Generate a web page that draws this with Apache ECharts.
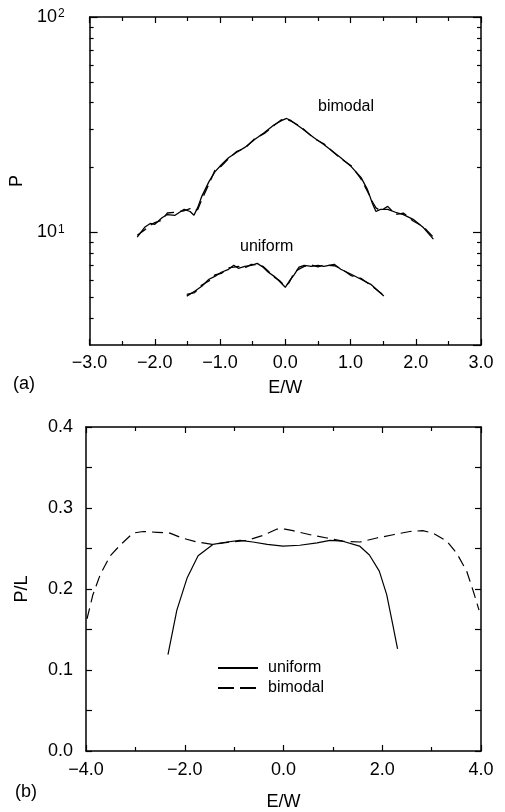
<!DOCTYPE html>
<html>
<head>
<meta charset="utf-8">
<script src="https://cdn.jsdelivr.net/npm/echarts@6/dist/echarts.min.js"></script>
<style>
html, body { margin: 0; padding: 0; background: #fff; }
#chart { width: 505px; height: 812px; }
</style>
</head>
<body>
<div id="chart"></div>
<script>
// ---- panel (a): P (log) vs E/W ----
const bimodalE = [-2.27, -2.15, -2.07, -2.00, -1.89, -1.81, -1.69, -1.55, -1.46, -1.40, -1.34, -1.28, -1.17, -1.08, -0.98, -0.87, -0.75, -0.62, -0.47, -0.32, -0.17, -0.06, 0.02, 0.09, 0.24, 0.44, 0.59, 0.85, 1.01, 1.16, 1.26, 1.34, 1.39, 1.46, 1.57, 1.69, 1.81, 1.96, 2.12, 2.27];
const bimodalP1 = [9.5, 10.6, 11.0, 10.9, 11.7, 12.1, 12.0, 12.8, 12.5, 12.0, 13.1, 14.7, 17.2, 19.1, 20.6, 22.2, 23.5, 24.8, 27.0, 29.1, 31.6, 33.0, 33.8, 33.0, 30.6, 27.5, 25.6, 22.2, 20.2, 18.0, 15.8, 13.5, 12.5, 12.8, 12.8, 12.4, 12.1, 11.5, 10.5, 9.3];
const bimodalP2 = [9.7, 10.3, 10.8, 11.1, 11.4, 12.3, 12.4, 12.6, 12.9, 12.6, 12.8, 14.2, 16.8, 19.4, 20.3, 22.0, 23.7, 24.6, 27.2, 28.8, 31.4, 33.3, 33.5, 32.8, 30.9, 27.3, 25.8, 22.0, 20.4, 17.7, 15.5, 13.8, 13.0, 12.6, 13.2, 12.1, 12.3, 11.3, 10.6, 9.5];

const uniformE = [-1.51, -1.39, -1.28, -1.17, -1.08, -0.98, -0.87, -0.79, -0.72, -0.62, -0.52, -0.43, -0.34, -0.26, -0.17, -0.09, 0.00, 0.06, 0.14, 0.21, 0.29, 0.40, 0.50, 0.59, 0.75, 0.85, 1.01, 1.16, 1.31, 1.51];
const uniformP1 = [5.06, 5.33, 5.62, 6.06, 6.25, 6.53, 6.74, 7.03, 6.81, 6.96, 7.03, 7.18, 6.89, 6.53, 6.25, 5.93, 5.56, 5.93, 6.39, 6.89, 7.03, 6.96, 7.03, 6.96, 7.11, 6.74, 6.39, 6.06, 5.74, 5.06];
const uniformP2 = [5.15, 5.25, 5.70, 5.95, 6.35, 6.45, 6.85, 6.90, 6.95, 6.85, 7.10, 7.05, 6.95, 6.60, 6.20, 5.98, 5.62, 5.85, 6.55, 6.75, 6.95, 7.05, 6.92, 7.05, 7.00, 6.80, 6.30, 6.12, 5.68, 5.10];

// log axis tick positions
const logMinorTicks = [4, 5, 6, 7, 8, 9, 20, 30, 40, 50, 60, 70, 80, 90];

// ---- panel (b): P/L vs E/W ----
const bUniformE = [-2.34, -2.16, -1.95, -1.73, -1.43, -1.14, -0.88, -0.62, -0.33, -0.01, 0.33, 0.68, 0.94, 1.20, 1.54, 1.74, 1.94, 2.09, 2.21, 2.31];
const bUniformPL = [0.119, 0.174, 0.214, 0.241, 0.255, 0.258, 0.260, 0.258, 0.255, 0.253, 0.254, 0.257, 0.260, 0.259, 0.253, 0.242, 0.222, 0.193, 0.157, 0.126];

const bBimodalE = [-3.98, -3.86, -3.71, -3.51, -3.31, -3.05, -2.84, -2.56, -2.30, -2.06, -1.75, -1.43, -1.08, -0.74, -0.42, -0.13, 0.03, 0.19, 0.54, 0.88, 1.20, 1.55, 1.89, 2.22, 2.56, 2.82, 3.03, 3.31, 3.51, 3.71, 3.84, 3.96];
const bBimodalPL = [0.163, 0.193, 0.218, 0.241, 0.254, 0.269, 0.271, 0.270, 0.269, 0.263, 0.258, 0.255, 0.258, 0.260, 0.266, 0.274, 0.274, 0.272, 0.267, 0.263, 0.259, 0.258, 0.263, 0.267, 0.271, 0.272, 0.269, 0.259, 0.244, 0.222, 0.198, 0.174];

const FONT = 'Liberation Sans, Arial, Helvetica, sans-serif';
const zip = (xs, ys) => xs.map((x, i) => [x, ys[i]]);
const minus = s => s.replace('-', '\u2212');

const frameLine = { show: true, onZero: false, lineStyle: { color: '#000', width: 1.5 } };
const noLine = { show: false, onZero: false };
const tickStyle = { color: '#000', width: 1.2 };
const labelStyle = { color: '#000', fontSize: 18, fontFamily: FONT };

let myChart = echarts.init(document.getElementById('chart'));

const solidA = { color: '#000', width: 1.3, type: 'solid' };
const dashedA = { color: '#000', width: 1.3, type: [11, 6] };
const solid = { color: '#000', width: 1.2, type: 'solid' };
const dashed = { color: '#000', width: 1.2, type: [11, 6] };

function lineSerie(name, data, xi, yi, style) {
    return {
        name: name,
        type: 'line',
        xAxisIndex: xi,
        yAxisIndex: yi,
        data: data,
        symbol: 'none',
        lineStyle: style,
        itemStyle: { color: '#000' },
        silent: true,
        animation: false
    };
}

const option = {
    backgroundColor: '#fff',
    animation: false,
    grid: [
        { left: 87, top: 17, width: 394, height: 328 },
        { left: 86, top: 427, width: 395, height: 329 }
    ],
    legend: {
        data: [
            { name: 'uniform' },
            { name: 'bimodal', lineStyle: { type: [16, 6] } }
        ],
        orient: 'vertical',
        left: 212,
        top: 655,
        itemWidth: 40,
        itemHeight: 14,
        itemGap: 4,
        itemStyle: { opacity: 0 },
        textStyle: { color: '#000', fontSize: 16, fontFamily: FONT, padding: [0, 0, 0, 5] },
        selectedMode: false
    },
    xAxis: [
        {
            gridIndex: 0, type: 'value', position: 'bottom', min: -3, max: 3, interval: 1,
            axisLine: frameLine,
            axisTick: { inside: true, length: 6, lineStyle: tickStyle },
            minorTick: { show: true, splitNumber: 2, length: 4, lineStyle: tickStyle },
            axisLabel: Object.assign({ margin: 9, formatter: v => minus(v.toFixed(1)) }, labelStyle),
            splitLine: { show: false },
            name: 'E/W', nameLocation: 'middle', nameGap: 34,
            nameTextStyle: labelStyle
        },
        {
            gridIndex: 0, type: 'value', position: 'top', min: -3, max: 3, interval: 1,
            axisLine: frameLine,
            axisTick: { inside: true, length: 6, lineStyle: tickStyle },
            minorTick: { show: true, splitNumber: 2, length: 4, lineStyle: tickStyle },
            axisLabel: { show: false },
            splitLine: { show: false }
        },
        {
            gridIndex: 1, type: 'value', position: 'bottom', min: -4, max: 4, interval: 2,
            axisLine: frameLine,
            axisTick: { inside: true, length: 6, lineStyle: tickStyle },
            minorTick: { show: true, splitNumber: 2, length: 4, lineStyle: tickStyle },
            axisLabel: Object.assign({ margin: 10, formatter: v => minus(v.toFixed(1)) }, labelStyle),
            splitLine: { show: false },
            name: 'E/W', nameLocation: 'middle', nameGap: 42,
            nameTextStyle: labelStyle
        },
        {
            gridIndex: 1, type: 'value', position: 'top', min: -4, max: 4, interval: 2,
            axisLine: frameLine,
            axisTick: { inside: true, length: 6, lineStyle: tickStyle },
            minorTick: { show: true, splitNumber: 2, length: 4, lineStyle: tickStyle },
            axisLabel: { show: false },
            splitLine: { show: false }
        }
    ],
    yAxis: [
        {
            gridIndex: 0, type: 'log', logBase: 10, position: 'left', min: 3, max: 100,
            axisLine: frameLine,
            axisTick: { inside: true, length: 8, lineStyle: tickStyle },
            axisLabel: {
                margin: 25,
                showMinLabel: false,
                formatter: v => {
                    if (Math.abs(v - 10) < 1e-6) return '{b|10}{s|1}';
                    if (Math.abs(v - 100) < 1e-6) return '{b|10}{s|2}';
                    return '';
                },
                rich: {
                    b: { fontSize: 18, fontFamily: FONT, color: '#000', lineHeight: 18, verticalAlign: 'bottom' },
                    s: { fontSize: 12, fontFamily: FONT, color: '#000', lineHeight: 12, verticalAlign: 'top', padding: [0, 0, 10, 1] }
                }
            },
            splitLine: { show: false },
            name: 'P', nameLocation: 'middle', nameGap: 52,
            nameTextStyle: labelStyle
        },
        {
            gridIndex: 0, type: 'log', logBase: 10, position: 'right', min: 3, max: 100,
            axisLine: frameLine,
            axisTick: { inside: true, length: 8, lineStyle: tickStyle },
            axisLabel: { show: false },
            splitLine: { show: false }
        },
        {
            // minor ticks of the log axis, placed in log10 space
            gridIndex: 0, type: 'value', position: 'left', min: Math.log10(3), max: 2,
            axisLine: noLine,
            axisTick: { inside: true, length: 4, lineStyle: tickStyle, customValues: logMinorTicks.map(v => Math.log10(v)) },
            axisLabel: { show: false },
            splitLine: { show: false }
        },
        {
            gridIndex: 0, type: 'value', position: 'right', min: Math.log10(3), max: 2,
            axisLine: noLine,
            axisTick: { inside: true, length: 4, lineStyle: tickStyle, customValues: logMinorTicks.map(v => Math.log10(v)) },
            axisLabel: { show: false },
            splitLine: { show: false }
        },
        {
            gridIndex: 1, type: 'value', position: 'left', min: 0, max: 0.4, interval: 0.1,
            axisLine: frameLine,
            axisTick: { inside: true, length: 6, lineStyle: tickStyle },
            minorTick: { show: true, splitNumber: 2, length: 6, lineStyle: tickStyle },
            axisLabel: Object.assign({ margin: 13, formatter: v => v.toFixed(1) }, labelStyle),
            splitLine: { show: false },
            name: 'P/L', nameLocation: 'middle', nameGap: 55,
            nameTextStyle: labelStyle
        },
        {
            gridIndex: 1, type: 'value', position: 'right', min: 0, max: 0.4, interval: 0.1,
            axisLine: frameLine,
            axisTick: { inside: true, length: 6, lineStyle: tickStyle },
            minorTick: { show: true, splitNumber: 2, length: 6, lineStyle: tickStyle },
            axisLabel: { show: false },
            splitLine: { show: false }
        }
    ],
    graphic: [
        { type: 'text', left: 13, top: 375, style: { text: '(a)', fontSize: 18, fontFamily: FONT, fill: '#000' } },
        { type: 'text', left: 15, top: 783, style: { text: '(b)', fontSize: 18, fontFamily: FONT, fill: '#000' } },
        { type: 'text', left: 318, top: 99, style: { text: 'bimodal', fontSize: 16, fontFamily: FONT, fill: '#000' } },
        { type: 'text', left: 240, top: 239, style: { text: 'uniform', fontSize: 16, fontFamily: FONT, fill: '#000' } }
    ],
    series: [
        lineSerie('bimodal L1', zip(bimodalE, bimodalP1), 0, 0, solidA),
        lineSerie('bimodal L2', zip(bimodalE, bimodalP2), 0, 0, dashedA),
        lineSerie('uniform L1', zip(uniformE, uniformP1), 0, 0, solidA),
        lineSerie('uniform L2', zip(uniformE, uniformP2), 0, 0, dashedA),
        lineSerie('uniform', zip(bUniformE, bUniformPL), 2, 4, solid),
        lineSerie('bimodal', zip(bBimodalE, bBimodalPL), 2, 4, dashed)
    ]
};

myChart.setOption(option, true);
</script>
</body>
</html>
